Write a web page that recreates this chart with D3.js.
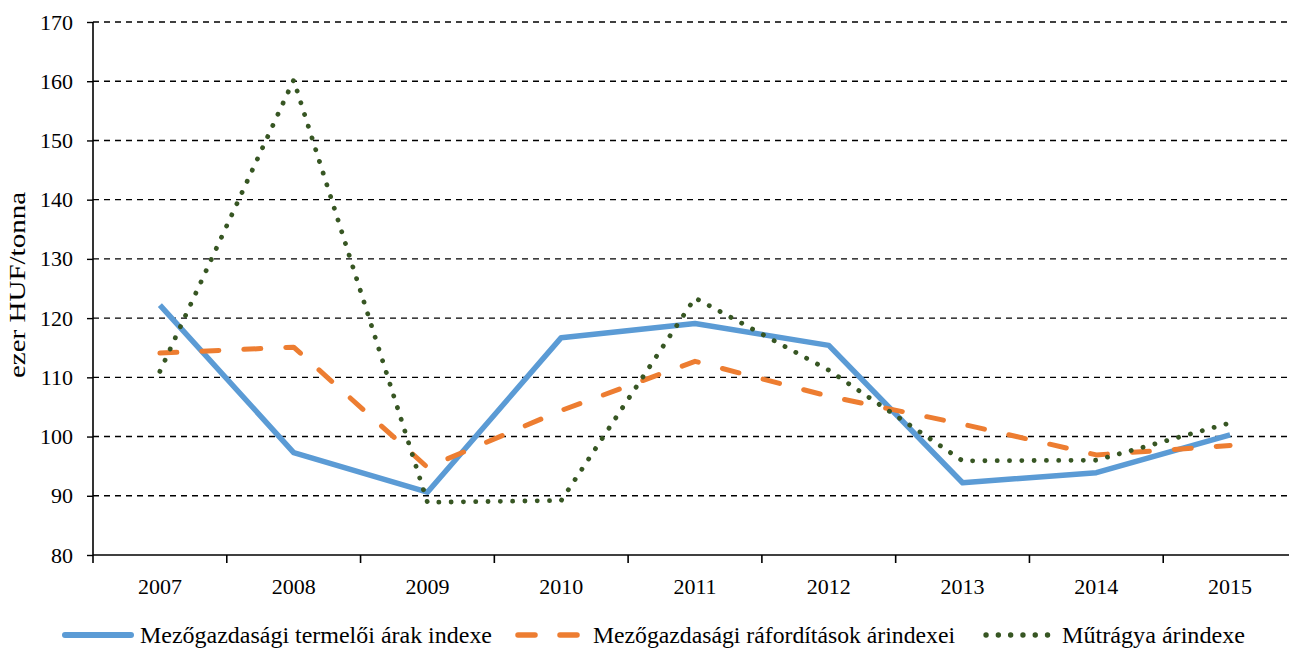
<!DOCTYPE html>
<html>
<head>
<meta charset="utf-8">
<script src="https://cdn.jsdelivr.net/npm/d3@7"></script>
<style>
  body { margin: 0; background: #fff; }
  svg { display: block; font-family: "Liberation Serif", "Times New Roman", serif; }
</style>
</head>
<body>
<div id="chart"></div>
<script>
var w = 1289, h = 648;

var years = ['2007', '2008', '2009', '2010', '2011', '2012', '2013', '2014', '2015'];
var producerIdx = [122.2, 97.3, 90.6, 116.7, 119.1, 115.4, 92.2, 93.9, 100.3];
var inputIdx = [114.1, 115.1, 94.8, 104.4, 112.7, 106.8, 102.1, 96.9, 98.5];
var fertIdx = [111.0, 160.2, 88.9, 89.2, 123.4, 111.2, 95.9, 96.0, 102.3];
var yTicks = [80, 90, 100, 110, 120, 130, 140, 150, 160, 170];

var series = [
  {name: 'Mezőgazdasági termelői árak indexe', values: producerIdx, color: '#5b9bd5', dash: null, width: 5.5},
  {name: 'Mezőgazdasági ráfordítások árindexei', values: inputIdx, color: '#ed7d31', dash: '17,25', width: 5},
  {name: 'Műtrágya árindexe', values: fertIdx, color: '#375623', dash: '0.1,12.2', width: 4.8}
];

var margin = {top: 22, left: 93};
var innerW = 1204, innerH = 533;

var x = d3.scaleBand().domain(years).range([0, innerW]);
var y = d3.scaleLinear().domain([80, 170]).range([innerH, 0]);

var svg = d3.select('#chart').append('svg')
  .attr('width', w).attr('height', h);
var g = svg.append('g')
  .attr('transform', 'translate(' + [margin.left, margin.top] + ')');

// gridlines
g.selectAll('.grid').data(yTicks.slice(1))
  .enter().append('line')
    .attr('x1', 0).attr('x2', innerW)
    .attr('y1', function(d) { return y(d); })
    .attr('y2', function(d) { return y(d); })
    .attr('stroke', '#000').attr('stroke-width', 1.4)
    .attr('stroke-dasharray', '6,5');

var yAxis = d3.axisLeft(y).tickValues(yTicks).tickSize(6).tickPadding(14).tickFormat(d3.format('d'));
var yAxisG = g.append('g').call(yAxis)
  .attr('font-family', null).attr('font-size', null);
yAxisG.select('.domain').attr('stroke-width', 1.6).attr('d', 'M0,' + innerH + 'V0');
yAxisG.selectAll('.tick line').attr('stroke-width', 1.4);
yAxisG.selectAll('text').style('font-size', '22px').attr('fill', '#000');

// x axis, ticks between the years
var xAxisG = g.append('g').attr('transform', 'translate(0,' + innerH + ')');
xAxisG.append('line').attr('x1', 0).attr('x2', innerW)
  .attr('stroke', '#000').attr('stroke-width', 1.6);
xAxisG.selectAll('.xt').data(years)
  .enter().append('line')
    .attr('x1', function(d) { return x(d); })
    .attr('x2', function(d) { return x(d); })
    .attr('y1', 0).attr('y2', 8)
    .attr('stroke', '#000').attr('stroke-width', 1.6);
xAxisG.selectAll('.xl').data(years)
  .enter().append('text')
    .attr('x', function(d) { return x(d) + x.bandwidth() / 2; })
    .attr('y', 39)
    .attr('text-anchor', 'middle')
    .style('font-size', '22px')
    .text(function(d) { return d; });

// lines
var line = d3.line()
  .x(function(d, i) { return x(years[i]) + x.bandwidth() / 2; })
  .y(function(d) { return y(d); });

g.selectAll('.series').data(series)
  .enter().append('path')
    .attr('d', function(d) { return line(d.values); })
    .attr('fill', 'none')
    .attr('stroke', function(d) { return d.color; })
    .attr('stroke-width', function(d) { return d.width; })
    .attr('stroke-dasharray', function(d) { return d.dash; })
    .attr('stroke-linecap', function(d) { return d.dash ? 'round' : 'butt'; })
    .attr('stroke-linejoin', 'round');

// y title
svg.append('text')
  .attr('transform', 'translate(25,285) rotate(-90)')
  .attr('text-anchor', 'middle')
  .attr('textLength', 186)
  .attr('lengthAdjust', 'spacingAndGlyphs')
  .style('font-size', '24px')
  .text('ezer HUF/tonna');

// legend
var legX = [65, 518, 986];
var legW = [352, 362, 183];
var leg = svg.selectAll('.leg').data(series)
  .enter().append('g')
    .attr('transform', function(d, i) { return 'translate(' + [legX[i], 635] + ')'; });
leg.append('line')
  .attr('x1', 0).attr('x2', function(d) { return d.dash ? 63 : 66; })
  .attr('stroke', function(d) { return d.color; })
  .attr('stroke-width', function(d) { return d.width + 0.5; })
  .attr('stroke-dasharray', function(d) { return d.dash; })
  .attr('stroke-linecap', 'round');
leg.append('text')
  .attr('x', function(d, i) { return i === 2 ? 76 : 75; })
  .attr('y', 8)
  .attr('textLength', function(d, i) { return legW[i]; })
  .attr('lengthAdjust', 'spacingAndGlyphs')
  .style('font-size', '23px')
  .text(function(d) { return d.name; });
</script>
</body>
</html>
